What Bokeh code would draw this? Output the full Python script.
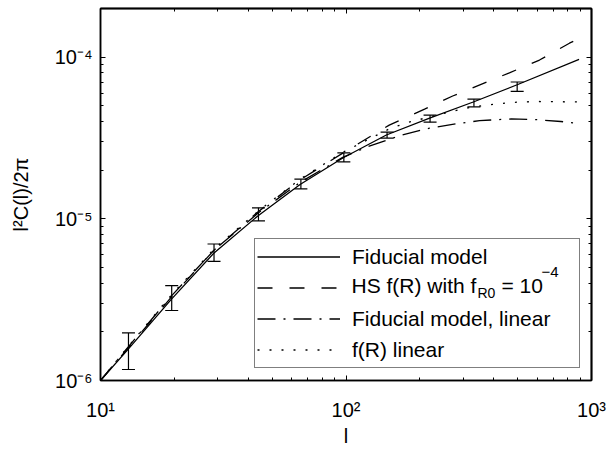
from bokeh.plotting import figure
from bokeh.core.properties import value
from bokeh.models import (LogAxis, Legend, LegendItem, Whisker, TeeHead,
                          ColumnDataSource, Range1d, FixedTicker, CustomJSTickFormatter)
from bokeh.embed import file_html
from bokeh.resources import INLINE

# ---------------- data ----------------
# Fiducial model (non-linear)
l_fid = [10, 13, 19.5, 29, 44, 65, 97, 146, 219, 332, 498, 890]
cl_fid = [1.0e-6, 1.57e-6, 3.2e-6, 6.15e-6, 1.05e-5, 1.63e-5, 2.38e-5, 3.3e-5,
          4.2e-5, 5.3e-5, 6.75e-5, 9.7e-5]

# HS f(R) with f_R0 = 1e-4 (non-linear)
l_hs = [10, 13, 19.5, 29, 44, 65, 97, 150, 209, 272, 355, 463, 614, 813, 890]
cl_hs = [1.0e-6, 1.6e-6, 3.3e-6, 6.4e-6, 1.11e-5, 1.74e-5, 2.55e-5, 3.8e-5,
         4.77e-5, 5.75e-5, 6.79e-5, 8.0e-5, 9.6e-5, 1.22e-4, 1.3e-4]

# Fiducial model, linear
l_lin = [10, 13, 19.5, 29, 44, 65, 97, 123, 170, 219, 281, 350, 471, 595, 750, 890]
cl_lin = [1.0e-6, 1.62e-6, 3.35e-6, 6.4e-6, 1.09e-5, 1.68e-5, 2.4e-5, 2.8e-5,
          3.31e-5, 3.64e-5, 3.87e-5, 4.05e-5, 4.15e-5, 4.11e-5, 4.0e-5, 3.88e-5]

# f(R) linear
l_frlin = [10, 13, 19.5, 29, 44, 65, 97, 150, 176, 244, 304, 378, 476, 592, 834, 890]
cl_frlin = [1.0e-6, 1.63e-6, 3.4e-6, 6.5e-6, 1.12e-5, 1.76e-5, 2.58e-5, 3.6e-5,
            3.92e-5, 4.45e-5, 4.82e-5, 5.07e-5, 5.25e-5, 5.32e-5, 5.29e-5, 5.28e-5]

# error bars
l_err = [13, 19.5, 29, 44, 65.5, 98, 147, 220, 332, 498]
err_lo = [1.17e-6, 2.71e-6, 5.46e-6, 9.7e-6, 1.53e-5, 2.25e-5, 3.16e-5, 3.96e-5,
          4.93e-5, 6.15e-5]
err_hi = [1.97e-6, 3.86e-6, 6.99e-6, 1.17e-5, 1.76e-5, 2.56e-5, 3.44e-5, 4.38e-5,
          5.5e-5, 7.02e-5]

# axes
x_lim = [10, 1000]
y_lim = [1e-6, 2e-4]
x_tick_vals = [10, 100, 1000]
y_tick_vals = [1e-6, 1e-5, 1e-4]
x_minor = [k * 10 ** d for d in (1, 2) for k in range(2, 10)]
y_minor = [k * 10.0 ** d for d in (-6, -5, -4) for k in range(2, 10) if k * 10.0 ** d <= y_lim[1]]

x_title = "l"
y_title = "l\u00b2C(l)/2\u03c0"
legend_labels = ["Fiducial model", "HS f(R) with f_R0 = 10^-4", "Fiducial model, linear", "f(R) linear"]
# pieces of the second legend label (main text, subscript, " = 10", superscript)
hs_pieces = ["HS f(R) with f", "R0", "= 10", "\u22124"]

FONT = "Liberation Sans"

# ---------------- figure ----------------
p = figure(width=607, height=449, x_axis_type="log", y_axis_type="log",
           x_range=Range1d(*x_lim), y_range=Range1d(*y_lim),
           output_backend="svg", toolbar_location=None,
           min_border_left=100, min_border_right=16, min_border_top=8,
           min_border_bottom=65)
p.background_fill_color = "white"
p.border_fill_color = "white"
p.grid.visible = False
p.outline_line_color = "black"
p.outline_line_width = 1.5


def style_axis(ax, tick_in_major=5, tick_in_minor=3):
    ax.axis_line_color = "black"
    ax.axis_line_width = 1.5
    ax.major_tick_in = tick_in_major
    ax.major_tick_out = 0
    ax.minor_tick_in = tick_in_minor
    ax.minor_tick_out = 0
    ax.major_tick_line_color = "black"
    ax.minor_tick_line_color = "black"
    ax.major_tick_line_width = 1
    ax.minor_tick_line_width = 1


pow10 = CustomJSTickFormatter(code=r"""
const sup = {"-": "\u207b", "0": "\u2070", "1": "\u00b9", "2": "\u00b2", "3": "\u00b3",
             "4": "\u2074", "5": "\u2075", "6": "\u2076", "7": "\u2077", "8": "\u2078",
             "9": "\u2079"};
const e = Math.round(Math.log10(tick));
return "10" + String(e).split("").map(c => sup[c]).join("");
""")

xa = p.xaxis[0]
ya = p.yaxis[0]
xa.ticker = FixedTicker(ticks=x_tick_vals, minor_ticks=x_minor)
ya.ticker = FixedTicker(ticks=y_tick_vals, minor_ticks=y_minor)
for ax in (xa, ya):
    style_axis(ax)
    ax.formatter = pow10
    ax.major_label_text_font = FONT
    ax.major_label_text_font_size = "20px"
    ax.major_label_text_color = "black"
    ax.axis_label_text_font = FONT
    ax.axis_label_text_font_size = "20px"
    ax.axis_label_text_font_style = "normal"
    ax.axis_label_text_color = "black"
xa.axis_label = x_title
ya.axis_label = y_title
xa.major_label_standoff = 18
xa.axis_label_standoff = 1
ya.major_label_standoff = 8
ya.axis_label_standoff = 20

# mirrored ticks on top and right (no labels)
for loc, minor, major in (("above", x_minor, x_tick_vals), ("right", y_minor, y_tick_vals)):
    a_minor = LogAxis(ticker=FixedTicker(ticks=[], minor_ticks=minor))
    style_axis(a_minor, 0, 3)
    a_major = LogAxis(ticker=FixedTicker(ticks=[], minor_ticks=major))
    style_axis(a_major, 0, 5)
    p.add_layout(a_minor, loc)
    p.add_layout(a_major, loc)

# ---------------- curves ----------------
lw = 1.3
r_fid = p.line(l_fid, cl_fid, line_color="black", line_width=lw)
r_hs = p.line(l_hs, cl_hs, line_color="black", line_width=lw, line_dash="15 17")
r_lin = p.line(l_lin, cl_lin, line_color="black", line_width=lw, line_dash="18 8 2 8")
r_frl = p.line(l_frlin, cl_frlin, line_color="black", line_width=lw, line_dash="2 10")

src_err = ColumnDataSource(dict(base=l_err, lower=err_lo, upper=err_hi))
wh = Whisker(base="base", lower="lower", upper="upper", source=src_err,
             dimension="height", line_color="black", line_width=1.2,
             upper_head=TeeHead(size=13, line_color="black", line_width=1.2),
             lower_head=TeeHead(size=13, line_color="black", line_width=1.2))
p.add_layout(wh)

# ---------------- legend ----------------
legend = Legend(items=[
    LegendItem(label=legend_labels[0], renderers=[r_fid]),
    LegendItem(label=" ", renderers=[r_hs]),
    LegendItem(label=legend_labels[2], renderers=[r_lin]),
    LegendItem(label=legend_labels[3], renderers=[r_frl]),
], location=(154, 12), orientation="vertical", padding=2, spacing=0, margin=0,
    glyph_width=83, glyph_height=31, label_height=31, label_width=225,
    label_standoff=12, label_text_font=FONT, label_text_font_size="21px",
    label_text_color="black", border_line_color="black", border_line_width=1.2,
    background_fill_alpha=0.0)
p.add_layout(legend)

# text of the second legend entry (with subscript and superscript), drawn under the
# transparent legend box; offsets are screen pixels from the frame's lower-right corner
hs_layout = dict(xo=[352 - 592, 478 - 592, 502 - 592, 542 - 592],
                 yo=[290 - 385, 297 - 385, 290 - 385, 276 - 385],
                 fsize=["21px", "14px", "21px", "15px"])
hs_src = ColumnDataSource(dict(x=[x_lim[1]] * 4, y=[y_lim[0]] * 4, text=hs_pieces, **hs_layout))
p.text(x="x", y="y", text="text", x_offset="xo", y_offset="yo", text_font_size="fsize",
       source=hs_src, text_font=value(FONT), text_color="black",
       text_align="left", text_baseline="alphabetic")

open("out.html", "w").write(file_html(p, INLINE))
